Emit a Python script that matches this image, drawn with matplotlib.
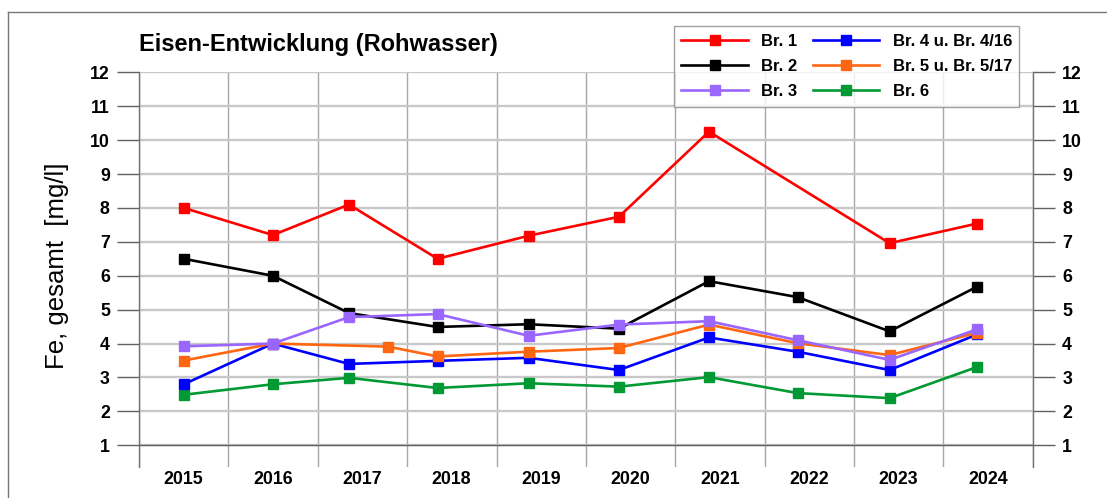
import numpy as np
import pandas as pd
import matplotlib
matplotlib.use("Agg")
import matplotlib.pyplot as plt
import matplotlib.dates as mdates
from matplotlib.lines import Line2D

plt.rcParams['font.family'] = ['Liberation Sans', 'DejaVu Sans']

# Messzeitpunkte (aus dem Bild abgeschaetzt)
dates = pd.to_datetime(['2015-07-03', '2016-07-01', '2017-05-08', '2018-05-05',
                        '2019-05-12', '2020-05-15', '2021-05-18', '2022-05-15',
                        '2023-05-26', '2024-05-18'])
# Br. 5 hat 2017 einen spaeteren Termin
dates_br5 = pd.to_datetime(['2015-07-03', '2016-07-01', '2017-10-15', '2018-05-05',
                            '2019-05-12', '2020-05-15', '2021-05-18', '2022-05-15',
                            '2023-05-26', '2024-05-18'])
# Br. 1 ohne Wert 2022
dates_br1 = dates.delete(7)

br1 = [8.0, 7.2, 8.1, 6.5, 7.18, 7.74, 10.25, 6.96, 7.54]
br2 = [6.5, 6.0, 4.9, 4.49, 4.57, 4.44, 5.84, 5.37, 4.36, 5.68]
br3 = [3.92, 4.0, 4.78, 4.87, 4.23, 4.56, 4.66, 4.1, 3.52, 4.42]
br4 = [2.8, 4.0, 3.4, 3.49, 3.58, 3.22, 4.18, 3.76, 3.22, 4.27]
br5 = [3.5, 4.0, 3.91, 3.62, 3.76, 3.87, 4.56, 4.01, 3.66, 4.32]
br6 = [2.49, 2.8, 2.99, 2.69, 2.83, 2.73, 3.01, 2.54, 2.39, 3.31]

labels = ['Br. 1', 'Br. 2', 'Br. 3', 'Br. 4 u. Br. 4/16', 'Br. 5 u. Br. 5/17', 'Br. 6']
colors = ['#ff0000', '#000000', '#9966ff', '#0000ff', '#ff6611', '#009933']
yticks = list(range(1, 13))

W, H = 1107, 498
fig = plt.figure(figsize=(W / 100, H / 100), dpi=100)
ax = fig.add_axes([139 / W, 1 - 467 / H, (1033 - 139) / W, (467 - 72.3) / H])

series = [(dates_br1, br1), (dates, br2), (dates, br3),
          (dates, br4), (dates_br5, br5), (dates, br6)]
zorders = [3, 3, 6, 4, 5, 3]
handles = []
for (d, v), lab, c, z in zip(series, labels, colors, zorders):
    h, = ax.plot(d, v, color=c, lw=1.9, marker='s', ms=7, label=lab, zorder=z)
    handles.append(h)

ax.set_xlim(pd.Timestamp('2015-01-01'), pd.Timestamp('2025-01-01'))
ax.set_ylim(0.36, 12)

# Jahresgrenzen als Gitter, Jahreszahlen mittig
ax.xaxis.set_major_locator(mdates.YearLocator())
ax.xaxis.set_major_formatter(plt.NullFormatter())
ax.xaxis.set_minor_locator(mdates.MonthLocator(bymonth=7, bymonthday=1))
ax.xaxis.set_minor_formatter(mdates.DateFormatter('%Y'))
ax.tick_params(axis='x', which='both', length=0)
ax.tick_params(axis='x', which='minor', pad=3, labelsize=12.8)
for t in ax.xaxis.get_minorticklabels():
    t.set_fontweight('bold')
ax.grid(True, axis='x', which='major', color='#a8a8a8', lw=1.0)

ax.set_yticks(yticks)
ax.tick_params(axis='y', which='major', left=True, right=True, labelleft=True,
               labelright=True, length=16, width=1.0, color='#606060',
               direction='out', pad=5, labelsize=12.8)
for t in ax.get_yticklabels():
    t.set_fontweight('bold')
ax.grid(True, axis='y', color='#c8c8c8', lw=1.7)
ax.axhline(1, color='#606060', lw=1.0, zorder=2)
ax.set_axisbelow(True)

ax.spines['bottom'].set_visible(False)
ax.spines['top'].set_visible(False)
for s in ['left', 'right']:
    ax.spines[s].set_color('#707070')
    ax.spines[s].set_linewidth(1.0)

fig.text(139 / W, 1 - 44.6 / H, 'Eisen-Entwicklung (Rohwasser)', fontsize=17,
         fontweight='bold', ha='left', va='center')
fig.text(57 / W, 1 - 266 / H, 'Fe, gesamt  [mg/l]', fontsize=18.5,
         rotation=90, ha='center', va='center')

leg = fig.legend(handles=handles, loc='upper left', bbox_to_anchor=(674 / W, 1 - 26 / H),
                 ncol=2, prop={'weight': 'bold', 'size': 12}, frameon=True,
                 fancybox=False, shadow=False, handlelength=4.0, handletextpad=0.8,
                 columnspacing=0.9, labelspacing=0.62, borderpad=0.45,
                 borderaxespad=0)
leg.get_frame().set_edgecolor('#888888')
leg.get_frame().set_linewidth(1.0)

# Rahmen links und oben
fig.add_artist(Line2D([8 / W, 8 / W], [0, 1 - 12 / H], color='#777777', lw=1.0))
fig.add_artist(Line2D([8 / W, 1], [1 - 12 / H, 1 - 12 / H], color='#777777', lw=1.0))

fig.savefig('out.png', dpi=100)
